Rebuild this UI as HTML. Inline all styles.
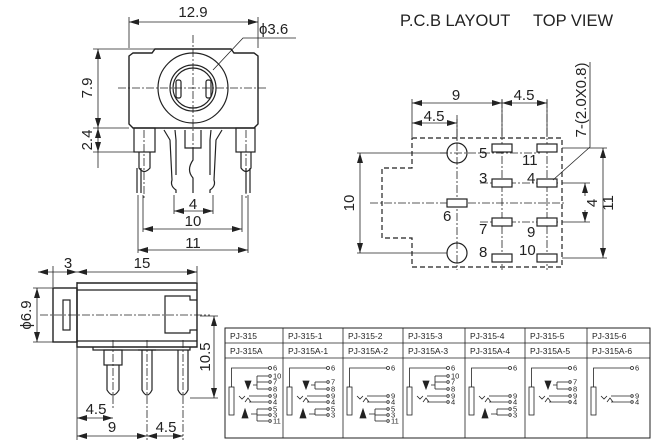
<!DOCTYPE html>
<html><head><meta charset="utf-8"><style>
html,body{margin:0;padding:0;background:#fff}
svg{display:block}
text{font-family:"Liberation Sans",sans-serif;fill:#222}
</style></head><body>
<svg id="s" width="657" height="448" viewBox="0 0 657 448" xmlns="http://www.w3.org/2000/svg">
<defs>
<marker id="a" viewBox="0 0 10 6" refX="10" refY="3" markerWidth="10" markerHeight="6" orient="auto-start-reverse" markerUnits="userSpaceOnUse"><path d="M0,0 L10,3 L0,6z" fill="#222"/></marker>
</defs>
<g stroke="#222" fill="none" stroke-width="1.2">
<path d="M129,56 L133,53 L152,53 L155,49 L231,49 L234,53 L254,53 L258,56 L258,124 L254,128 L133,128 L129,124Z" stroke-width="1.4"/>
<circle cx="193" cy="88" r="35"/>
<circle cx="193" cy="88" r="23"/>
<circle cx="193" cy="88" r="20"/>
<rect x="176" y="80" width="5" height="18" rx="2"/>
<rect x="206" y="80" width="5" height="18" rx="2"/>
<rect x="134" y="128" width="21" height="24"/>
<rect x="236" y="128" width="19" height="24"/>
<path d="M139,152 L139,168 Q144,175 150,168 L150,152"/>
<path d="M241,152 L241,168 Q246,175 251,168 L251,152"/>
<path d="M137,168 L137,193 M141,168 L141,193 M246,168 L246,193 M250,168 L250,193"/>
<path d="M185,130 L185,148 L201,148 L201,130"/>
<path d="M164,130 L170,140 L172,180 Q170,186 176,190 L176,193 M175,130 L176,140 L176,175"/>
<path d="M222,130 L216,140 L214,180 Q216,186 210,190 L210,193 M211,130 L210,140 L210,175"/>
<path d="M193,148 L193,160 Q186,170 193,178 L193,193"/>
<g stroke-width="0.8" stroke-dasharray="8,2,2,2"><path d="M193,35 L193,150 M118,88 L267,88 M144,130 L144,200 M246,130 L246,200"/></g>
<g stroke-width="0.8">
<path d="M129,48 L129,17 M258,48 L258,17 M93,49 L155,49 M93,128 L129,128 M93,152 L134,152 M174,195 L174,214 M213,195 L213,214 M143,195 L143,232 M242,195 L242,232 M138,195 L138,253 M248,195 L248,253"/>
<path d="M129,22 L258,22" marker-start="url(#a)" marker-end="url(#a)"/>
<path d="M98,49 L98,128" marker-start="url(#a)" marker-end="url(#a)"/>
<path d="M98,128 L98,152" marker-start="url(#a)" marker-end="url(#a)"/>
<path d="M98,152 L98,168"/>
<path d="M174,211 L213,211" marker-start="url(#a)" marker-end="url(#a)"/>
<path d="M143,229 L242,229" marker-start="url(#a)" marker-end="url(#a)"/>
<path d="M138,250 L248,250" marker-start="url(#a)" marker-end="url(#a)"/>
<path d="M213,70 L243,38 L296,38"/>
</g>
<path d="M412,138 L562,138 L562,267 L412,267 L412,238 L382,238 L382,168 L412,168 Z" stroke-dasharray="5,3"/>
<circle cx="457" cy="153" r="10"/><circle cx="457" cy="253" r="10"/>
<g stroke-width="0.8" stroke-dasharray="8,2,2,2"><path d="M457,115 L457,270 M502,100 L502,270 M547,100 L547,270 M370,203 L565,203 M440,153 L540,153 M480,183 L560,183 M480,222 L560,222"/></g>
<g fill="#fff" stroke-width="1.2">
<rect x="492" y="144" width="20" height="8"/><rect x="537" y="144" width="20" height="8"/>
<rect x="492" y="179" width="20" height="8"/><rect x="537" y="179" width="20" height="8"/>
<rect x="447" y="199" width="20" height="8"/>
<rect x="492" y="218" width="20" height="8"/><rect x="537" y="218" width="20" height="8"/>
<rect x="492" y="254" width="20" height="8"/><rect x="537" y="254" width="20" height="8"/>
</g>
<g stroke-width="0.8">
<path d="M412,137 L412,99 M502,137 L502,99 M547,137 L547,99 M457,140 L457,119"/>
<path d="M412,103 L502,103" marker-start="url(#a)" marker-end="url(#a)"/>
<path d="M502,103 L547,103" marker-start="url(#a)" marker-end="url(#a)"/>
<path d="M412,123 L457,123" marker-start="url(#a)" marker-end="url(#a)"/>
<path d="M357,153 L447,153 M357,253 L447,253 M562,148 L607,148 M562,258 L607,258 M562,183 L590,183 M562,222 L590,222"/>
<path d="M360,153 L360,253" marker-start="url(#a)" marker-end="url(#a)"/>
<path d="M603,148 L603,258" marker-start="url(#a)" marker-end="url(#a)"/>
<path d="M585,196 L585,183" marker-end="url(#a)"/>
<path d="M585,210 L585,222" marker-end="url(#a)"/>
<path d="M590,62 L590,147 L553,180"/>
</g>
<rect x="53" y="288" width="24" height="54" stroke-width="1.4"/>
<rect x="63" y="300" width="7" height="30"/>
<path d="M77,283 L197,283 L197,347 L77,347 Z" stroke-width="1.4"/>
<path d="M77,290 L197,290 M77,341 L197,341"/>
<path d="M197,300 L190,300 L190,296 L165,296 L165,333 L190,333 L190,330 L197,330"/>
<path d="M93,347 L93,350 L190,350 L190,347"/>
<rect x="104" y="350" width="18" height="15"/>
<path d="M107,365 L107,390 Q113,400 119,390 L119,365"/>
<path d="M142,350 L142,390 Q147,400 152,390 L152,350 M138,350 L156,350"/>
<path d="M178,350 L178,390 Q183,400 188,390 L188,350"/>
<g stroke-width="0.8" stroke-dasharray="8,2,2,2"><path d="M40,315 L210,315 M113,340 L113,410 M147,340 L147,440 M183,340 L183,440"/></g>
<g stroke-width="0.8">
<path d="M53,287 L53,266 M77,282 L77,440 M197,282 L197,266 M33,288 L53,288 M33,342 L53,342 M200,316 L218,316 M190,398 L218,398"/>
<path d="M38,272 L77,272" marker-start="url(#a)" marker-end="url(#a)"/>
<path d="M77,272 L197,272" marker-start="url(#a)" marker-end="url(#a)"/>
<path d="M37,288 L37,342" marker-start="url(#a)" marker-end="url(#a)"/>
<path d="M214,316 L214,398" marker-start="url(#a)" marker-end="url(#a)"/>
<path d="M77,418 L113,418" marker-start="url(#a)" marker-end="url(#a)"/>
<path d="M77,436 L147,436" marker-start="url(#a)" marker-end="url(#a)"/>
<path d="M147,436 L183,436" marker-start="url(#a)" marker-end="url(#a)"/>
</g>
<rect x="225" y="328" width="425" height="110" stroke-width="1"/>
<path d="M225,343 L650,343 M225,358 L650,358 M283,328 L283,438 M343,328 L343,438 M403,328 L403,438 M465,328 L465,438 M525,328 L525,438 M587,328 L587,438" stroke-width="0.8"/>
</g>
<g font-size="15">
<text x="193" y="17" text-anchor="middle">12.9</text>
<text x="259" y="34">ϕ3.6</text>
<text transform="translate(92,88) rotate(-90)" text-anchor="middle">7.9</text>
<text transform="translate(92,140) rotate(-90)" text-anchor="middle">2.4</text>
<text x="193" y="209" text-anchor="middle">4</text>
<text x="193" y="226" text-anchor="middle">10</text>
<text x="193" y="248" text-anchor="middle">11</text>
<text x="400" y="26" font-size="16.5">P.C.B LAYOUT</text>
<text x="533" y="26" font-size="16.5">TOP VIEW</text>
<text x="456" y="100" text-anchor="middle">9</text>
<text x="524" y="100" text-anchor="middle">4.5</text>
<text x="434" y="121" text-anchor="middle">4.5</text>
<text transform="translate(354,203) rotate(-90)" text-anchor="middle">10</text>
<text transform="translate(597,203) rotate(-90)" text-anchor="middle">4</text>
<text transform="translate(613,203) rotate(-90)" text-anchor="middle">11</text>
<text transform="translate(586,100) rotate(-90)" text-anchor="middle">7-(2.0X0.8)</text>
<text x="479" y="158">5</text><text x="522" y="165">11</text>
<text x="479" y="183">3</text><text x="527" y="183">4</text>
<text x="443" y="221">6</text>
<text x="479" y="234">7</text><text x="527" y="237">9</text>
<text x="479" y="257">8</text><text x="519" y="255">10</text>
<text x="68" y="268" text-anchor="middle">3</text>
<text x="142" y="268" text-anchor="middle">15</text>
<text transform="translate(31,315) rotate(-90)" text-anchor="middle">ϕ6.9</text>
<text transform="translate(210,357) rotate(-90)" text-anchor="middle">10.5</text>
<text x="96" y="414" text-anchor="middle">4.5</text>
<text x="112" y="432" text-anchor="middle">9</text>
<text x="166" y="432" text-anchor="middle">4.5</text>
</g>
<g font-size="8.5">
<text x="230" y="339">PJ-315</text><text x="288" y="339">PJ-315-1</text><text x="348" y="339">PJ-315-2</text><text x="408" y="339">PJ-315-3</text><text x="470" y="339">PJ-315-4</text><text x="530" y="339">PJ-315-5</text><text x="592" y="339">PJ-315-6</text>
<text x="230" y="354">PJ-315A</text><text x="288" y="354">PJ-315A-1</text><text x="348" y="354">PJ-315A-2</text><text x="408" y="354">PJ-315A-3</text><text x="470" y="354">PJ-315A-4</text><text x="530" y="354">PJ-315A-5</text><text x="592" y="354">PJ-315A-6</text>
</g>
<g id="sch" stroke="#222" fill="none" stroke-width="0.8" font-size="7.5"></g>
</svg>
<script>
var g=document.getElementById('sch'),ns='http://www.w3.org/2000/svg';
function el(t,a,txt){var e=document.createElementNS(ns,t);for(var k in a)e.setAttribute(k,a[k]);if(txt){e.textContent=txt;e.setAttribute('fill','#222');e.setAttribute('stroke','none');}g.appendChild(e);}
var xs=[225,283,343,403,465,525,587];
var Y={'10':376,'7':382,'8':389,'9':396,'4':402,'5':409,'3':415,'11':421};
var cfg=[
[['10','7','8','9','4','5','3','11'],1,1],
[['7','8','9','4','5','3'],1,1],
[['9','4','5','3','11'],0,1],
[['10','7','8','9','4'],1,0],
[['9','4','5','3'],0,1],
[['7','8','9','4'],1,0],
[['9','4'],0,0]];
cfg.forEach(function(c,i){var x=xs[i];
el('rect',{x:x+4,y:387,width:5,height:28});
el('path',{d:'M'+(x+6.5)+',387 L'+(x+6.5)+',368 L'+(x+43)+',368'});
el('circle',{cx:x+45,cy:368,r:1.5});el('text',{x:x+48,y:370.5},'6');
c[0].forEach(function(l){var y=Y[l];
var x1=(l=='9'||l=='4')?x+24:x+32;
el('path',{d:'M'+x1+','+y+' L'+(x+43)+','+y});el('circle',{cx:x+45,cy:y,r:1.3});el('text',{x:x+48,y:y+2.5},l);});
el('path',{d:'M'+(x+14)+',396 l3,3 l3,-3 M'+(x+20)+',402 l3,-4 l3,4'});
if(c[1]){el('path',{d:'M'+(x+20)+',381 l6,0 l-3,8z',fill:'#222'});el('path',{d:'M'+(x+28)+',385 L'+(x+32)+',385 L'+(x+32)+(c[0].indexOf('10')>=0?',376':',382')+' M'+(x+32)+',385 L'+(x+32)+',389'});}
if(c[2]){el('path',{d:'M'+(x+17)+',418 l6,0 l-3,-9z',fill:'#222'});el('path',{d:'M'+(x+26)+',414 L'+(x+32)+',414 M'+(x+32)+',409 L'+(x+32)+(c[0].indexOf('11')>=0?',421':',415')});}
});
</script>
</body></html>
